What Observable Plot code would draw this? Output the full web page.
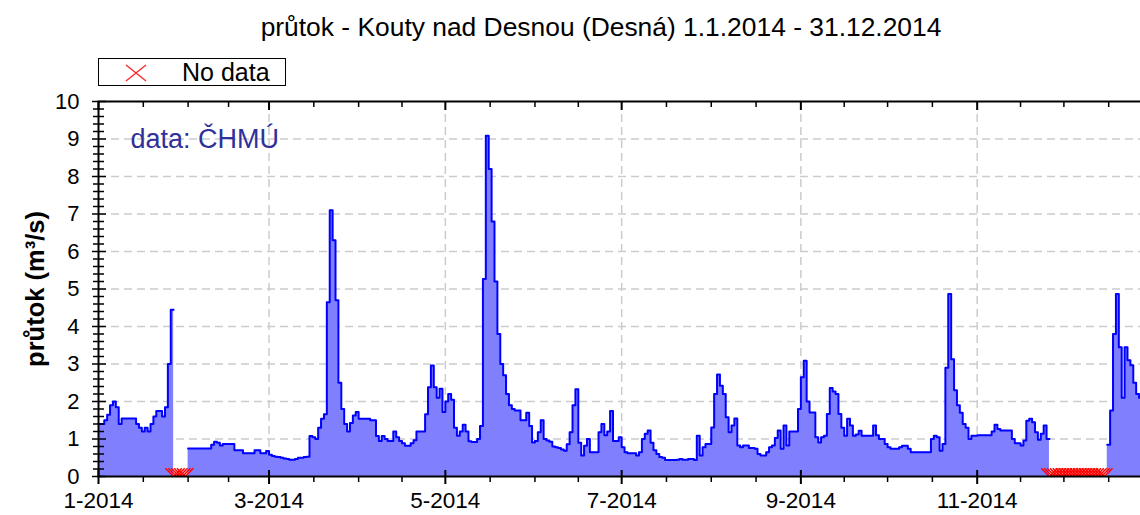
<!DOCTYPE html>
<html>
<head>
<meta charset="utf-8">
<script src="https://cdn.jsdelivr.net/npm/d3@7"></script>
<script src="https://cdn.jsdelivr.net/npm/@observablehq/plot@0.6"></script>
<style>
  html, body { margin: 0; padding: 0; background: #fff; overflow: hidden; }
  #wrap { position: relative; width: 1140px; height: 515px; overflow: hidden; font-family: "Liberation Sans", Arial, sans-serif; }
  #header { position: relative; height: 90px; }
  #title { position: absolute; left: 0; width: 1202px; top: 14px; text-align: center; font-size: 26.4px; line-height: 27px; color: #000; white-space: nowrap; }
  #legend { position: absolute; left: 98px; top: 58px; width: 186px; height: 26px; border: 1.5px solid #000; background: #fff; }
  #legend svg { position: absolute; left: 25px; top: 5px; }
  #legend span { position: absolute; left: 83px; top: 0px; font-size: 25px; line-height: 27px; color: #000; white-space: nowrap; }
  #chart { width: 1170px; height: 425px; }
  #chart svg { display: block; max-width: none !important; width: 1170px !important; height: 425px !important; }
</style>
</head>
<body>
<div id="wrap">
  <div id="header">
    <div id="title">průtok - Kouty nad Desnou (Desná) 1.1.2014 - 31.12.2014</div>
    <div id="legend">
      <svg width="24" height="18" viewBox="0 0 24 18"><path d="M2,1 L22,17 M22,1 L2,17" stroke="#ff2a2a" stroke-width="1.4" fill="none"/></svg>
      <span>No data</span>
    </div>
  </div>
  <div id="chart"></div>
</div>
<script>
// Daily flow (m³/s), null = no data
const jan = [1.4,1.4,1.5,1.65,1.9,2.0,1.85,1.4,1.55,1.55,1.55,1.55,1.55,1.4,1.3,1.2,1.3,1.2,1.4,1.6,1.75,1.75,1.6,1.85,3.0,4.45,null,null,null,null,null];
const feb = [0.75,0.75,0.75,0.75,0.75,0.75,0.75,0.75,0.85,0.93,0.9,0.83,0.87,0.87,0.87,0.87,0.7,0.7,0.7,0.62,0.62,0.62,0.62,0.7,0.7,0.62,0.62,0.68];
const mar = [0.58,0.55,0.53,0.52,0.5,0.48,0.47,0.45,0.45,0.47,0.5,0.5,0.52,0.53,1.08,1.05,1.0,1.3,1.54,1.66,4.65,7.1,6.3,4.7,2.5,1.8,1.4,1.2,1.43,1.63,1.72];
const apr = [1.54,1.54,1.54,1.54,1.5,1.5,1.08,0.95,1.08,1.0,0.95,0.95,1.2,1.05,0.95,0.89,0.82,0.82,0.89,0.97,1.2,1.2,1.2,1.66,2.38,2.96,2.38,2.1,2.34,1.72];
const may = [2.0,2.2,2.05,1.3,1.09,1.2,1.38,1.2,0.94,0.92,0.92,1.0,1.35,5.27,9.09,8.2,6.8,5.2,3.8,3.0,2.7,2.2,1.9,1.8,1.76,1.76,1.5,1.5,1.7,1.35,0.91];
const jun = [0.95,1.18,1.5,1.0,0.96,0.93,0.8,0.78,0.76,0.72,0.69,0.86,1.18,1.9,2.33,0.9,0.56,0.82,1.0,0.65,0.65,0.65,1.18,1.4,1.1,1.2,1.75,0.95,0.95,1.05];
const jul = [0.78,0.65,0.62,0.62,0.62,0.56,0.65,1.0,1.14,1.23,0.9,0.7,0.6,0.52,0.5,0.44,0.44,0.44,0.44,0.45,0.47,0.45,0.45,0.47,0.47,0.44,1.09,0.56,0.78,0.87,0.87];
const aug = [1.31,2.2,2.72,2.42,2.2,1.58,1.18,1.36,1.55,0.83,0.78,0.83,0.83,0.76,0.76,0.74,0.6,0.56,0.56,0.65,0.78,0.83,1.03,1.23,0.74,1.36,0.83,1.2,1.2,1.2,1.8];
const sep = [2.65,3.09,2.0,1.71,1.71,1.05,0.91,1.05,1.09,1.67,2.36,2.27,2.2,1.67,1.3,1.09,1.54,1.36,1.09,1.12,1.22,1.09,1.09,1.09,1.09,1.36,1.1,1.0,1.0,0.87];
const oct = [0.78,0.74,0.74,0.74,0.78,0.82,0.82,0.74,0.65,0.65,0.65,0.65,0.65,0.65,0.65,1.0,1.09,1.05,0.69,0.87,2.9,4.87,3.13,2.3,1.9,1.7,1.4,1.3,1.0,1.09,1.09];
const nov = [1.1,1.1,1.1,1.1,1.1,1.2,1.38,1.27,1.23,1.23,1.23,1.23,1.0,0.89,0.89,0.83,0.96,1.49,1.54,1.45,1.18,0.98,1.14,1.36,1.0,null,null,null,null,null];
const dec = [null,null,null,null,null,null,null,null,null,null,null,null,null,null,null,0.85,1.76,3.8,4.87,3.45,2.1,3.45,3.1,2.97,2.5,2.2,2.1,1.9,1.8,1.8,1.7];

const yTicks = [0,1,2,3,4,5,6,7,8,9,10];
const yGrid = [1,2,3,4,5,6,7,8,9];
const xTickMonths = [0,2,4,6,8,10];
const xTickLabels = ["1-2014","3-2014","5-2014","7-2014","9-2014","11-2014"];

const monthly = [jan,feb,mar,apr,may,jun,jul,aug,sep,oct,nov,dec];
const pts = [];
const missing = [];
monthly.forEach((arr, m) => arr.forEach((v, i) => {
  const t0 = new Date(Date.UTC(2014, m, i + 1));
  const t1 = new Date(Date.UTC(2014, m, i + 2));
  if (v == null) {
    pts.push({t: t0, q: null});
    missing.push({t: t0, q: 0});
  } else {
    pts.push({t: t0, q: v}, {t: t1, q: v});
  }
}));

const majorDates = xTickMonths.map(m => new Date(Date.UTC(2014, m, 1)));
const minorDates = [];
for (let m = 0; m < 12; m++) {
  const a = Date.UTC(2014, m, 1), b = Date.UTC(2014, m + 1, 1);
  minorDates.push(new Date((a + b) / 2));
  if (m % 2 === 1) minorDates.push(new Date(a));
}
const yMinor = [];
for (let i = 1; i < 50; i++) if (i % 5 !== 0) yMinor.push(i / 5);

const fmtX = d => xTickLabels[majorDates.findIndex(m => +m === +d)];
const gridStyle = {stroke: "#cccccc", strokeOpacity: 1, strokeWidth: 1.5, strokeDasharray: "8,5"};

const chart = Plot.plot({
  width: 1170,
  height: 425,
  marginLeft: 98,
  marginRight: 17,
  marginTop: 11,
  marginBottom: 39,
  x: {type: "utc", domain: [new Date(Date.UTC(2014, 0, 1)), new Date(Date.UTC(2015, 0, 1))]},
  y: {domain: [0, 10]},
  style: {fontFamily: "'Liberation Sans', Arial, sans-serif", fontSize: "22px", color: "#000", background: "#fff", overflow: "visible", maxWidth: "none"},
  marks: [
    Plot.gridY(yGrid, gridStyle),
    Plot.gridX(majorDates.slice(1), gridStyle),
    Plot.areaY(pts, {x: "t", y1: 0, y2: "q", fill: "#8080ff", curve: "linear"}),
    Plot.lineY(pts, {x: "t", y: "q", stroke: "#0000ff", strokeWidth: 2, curve: "linear"}),
    Plot.dot(missing, {x: "t", y: "q", symbol: "times", r: 7.5, stroke: "#ff0000", strokeWidth: 1.5, clip: true}),
    Plot.frame({stroke: "#000", strokeWidth: 2}),
    Plot.axisY(yTicks, {tickSize: 14, dx: 8, tickPadding: 13, strokeWidth: 1.5, label: null, fontSize: 22}),
    Plot.axisY(yMinor, {tickSize: 11, dx: 6, strokeWidth: 1.5, tickFormat: () => "", label: null}),
    Plot.axisX(majorDates, {anchor: "bottom", tickSize: 14, dy: -6, tickPadding: 8, strokeWidth: 2, tickFormat: fmtX, label: null, fontSize: 22.5}),
    Plot.axisX(minorDates, {anchor: "bottom", tickSize: 6, strokeWidth: 1.5, tickFormat: () => "", label: null}),
    Plot.axisX(majorDates, {anchor: "top", tickSize: 8, dy: 8, strokeWidth: 2, tickFormat: () => "", label: null}),
    Plot.axisX(minorDates, {anchor: "top", tickSize: 5, dy: 5, strokeWidth: 1.5, tickFormat: () => "", label: null}),
    Plot.text(["data: ČHMÚ"], {text: d => d, frameAnchor: "top-left", dx: 32, dy: 38, textAnchor: "start", lineAnchor: "middle", fill: "#30309a", fontSize: 27}),
    Plot.text(["průtok (m³/s)"], {text: d => d, frameAnchor: "left", dx: -63, rotate: -90, textAnchor: "middle", lineAnchor: "middle", fontWeight: "bold", fontSize: 25.5, fill: "#000"})
  ]
});
document.getElementById("chart").appendChild(chart);
</script>
</body>
</html>
